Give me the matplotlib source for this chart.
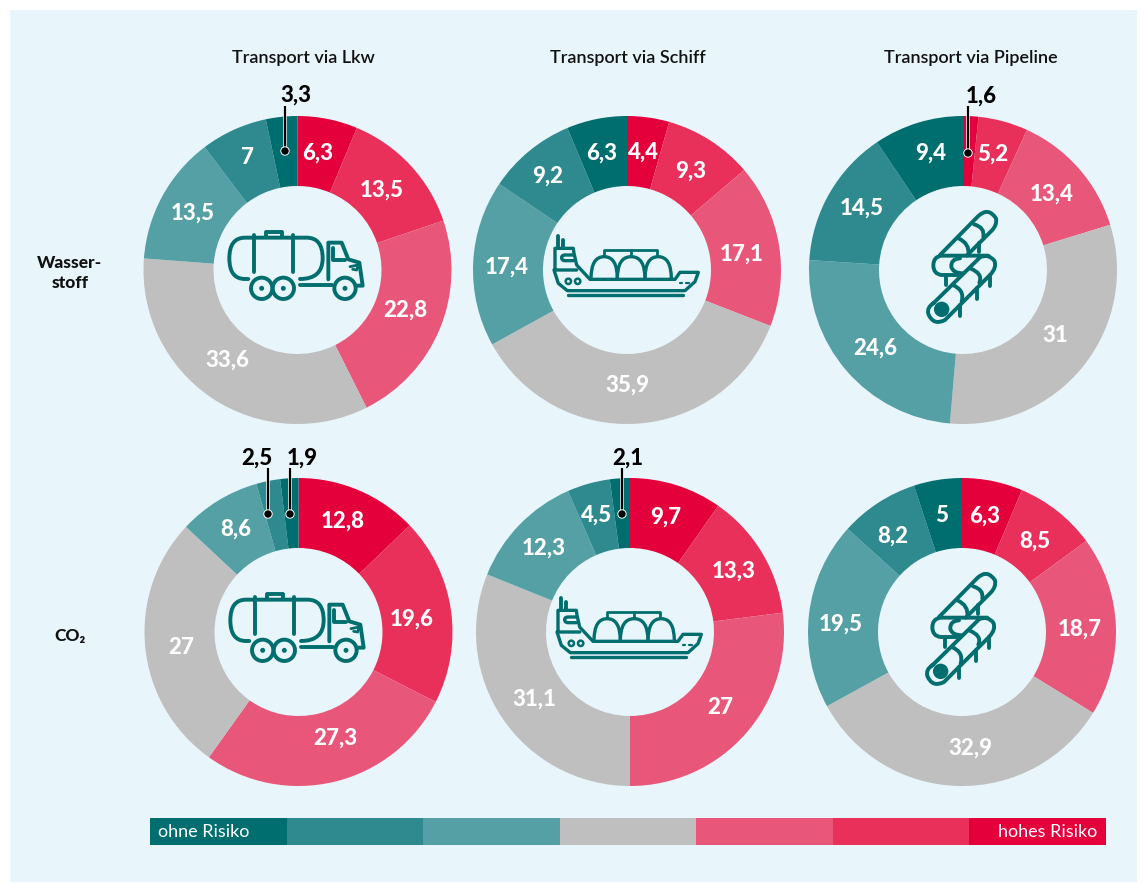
#!/usr/bin/env python3
"""Risk shares for hydrogen and CO2 transport as a grid of donuts."""

import matplotlib

matplotlib.use("Agg")
import matplotlib.pyplot as plt
from matplotlib.patches import Circle, PathPatch, Rectangle
from matplotlib.path import Path

plt.rcParams["font.family"] = ["Lato", "DejaVu Sans"]

WIDTH, HEIGHT = 1144, 883
PANEL = "#e8f5fb"
TEAL = "#006e6e"
ICON_LW = 2.8

COLORS = ["#e4003a", "#e8305a", "#e8577a", "#bfbfbf", "#55a0a5", "#2e8a8f", "#006e6e"]
SCALE_COLORS = COLORS[::-1]

COLUMN_TITLES = ["Transport via Lkw", "Transport via Schiff", "Transport via Pipeline"]
ROW_TITLES = ["Wasser-\nstoff", "CO₂"]

# clockwise from 12 o'clock, high risk first
H2_TRUCK = [6.3, 13.5, 22.8, 33.6, 13.5, 7, 3.3]
H2_SHIP = [4.4, 9.3, 17.1, 35.9, 17.4, 9.2, 6.3]
H2_PIPE = [1.6, 5.2, 13.4, 31, 24.6, 14.5, 9.4]
CO2_TRUCK = [12.8, 19.6, 27.3, 27, 8.6, 2.5, 1.9]
CO2_SHIP = [9.7, 13.3, 27, 31.1, 12.3, 4.5, 2.1]
CO2_PIPE = [6.3, 8.5, 18.7, 32.9, 19.5, 8.2, 5]

DONUTS = [
    (H2_TRUCK, 297.5, 270, "truck"),
    (H2_SHIP, 627, 270, "ship"),
    (H2_PIPE, 963, 270, "pipe"),
    (CO2_TRUCK, 298.5, 632, "truck"),
    (CO2_SHIP, 630, 632, "ship"),
    (CO2_PIPE, 962, 632, "pipe"),
]

OUTER_R = 154
INNER_R = 84

# where the white labels sit, one list per donut (None: value has a callout instead)
LABEL_XY = [
    [(318, 153), (382, 190), (405, 310), (227, 360), (193, 213), (248, 158), None],
    [(643, 152), (691, 171), (742, 254), (627, 385), (507, 267), (548, 176), (602, 153)],
    [None, (993, 154), (1052, 194), (1055, 336), (875, 348), (862, 208), (931, 153)],
    [(343, 521), (412, 619), (335, 738), (181, 647), (236, 529), None, None],
    [(666, 517), (734, 571), (720, 707), (534, 699), (544, 548), (597, 515), None],
    [(985, 516), (1035, 541), (1080, 629), (970, 748), (841, 624), (893, 536), (942, 515)],
]


def stroke(ax, points, dx, dy, closed=False, lw=ICON_LW):
    """Draw a polyline given in icon coords; a 3-tuple marks a quadratic control point."""
    verts, codes = [], []
    for pt in points:
        verts.append((pt[0] / 3 + dx, pt[1] / 3 + dy))
        if len(pt) == 3:
            codes.append(Path.CURVE3)
        else:
            codes.append(Path.LINETO if codes else Path.MOVETO)
    if closed:
        verts.append(verts[0])
        codes.append(Path.CLOSEPOLY)
    ax.add_patch(PathPatch(Path(verts, codes), fc="none", ec=TEAL, lw=lw, capstyle="round",
                           joinstyle="round", zorder=4))


def ring(ax, x, y, r, dx, dy, lw=ICON_LW, fc="none"):
    ax.add_patch(Circle((x / 3 + dx, y / 3 + dy), r / 3, fc=fc, ec=TEAL, lw=lw, zorder=4))


def draw_truck(ax, dx, dy):
    stroke(ax, [(145, 237), (135, 237), (88, 237, 0), (88, 175), (88, 113, 0), (135, 113),
                (320, 113), (368, 113, 0), (368, 175), (368, 237, 0), (300, 237)], dx, dy)
    stroke(ax, [(162, 105), (162, 215)], dx, dy)
    stroke(ax, [(280, 105), (280, 215)], dx, dy)
    stroke(ax, [(197, 110), (197, 97), (245, 97), (245, 110)], dx, dy)
    for wx in (185, 250, 435):
        ring(ax, wx, 265, 32, dx, dy)
        ring(ax, wx, 265, 4, dx, dy, lw=1.6, fc=TEAL)
    stroke(ax, [(300, 255), (395, 255)], dx, dy)
    stroke(ax, [(385, 238), (385, 128), (425, 128), (445, 178), (478, 188), (488, 257), (470, 257)],
           dx, dy)
    stroke(ax, [(400, 145), (400, 180), (435, 180)], dx, dy)
    stroke(ax, [(450, 200), (475, 195), (470, 210), (458, 208)], dx, dy, lw=2.0)


def draw_ship(ax, dx, dy):
    stroke(ax, [(85, 48), (85, 85)], dx, dy)
    stroke(ax, [(100, 60), (100, 85)], dx, dy)
    stroke(ax, [(75, 150), (75, 85), (130, 85), (132, 100), (140, 135), (180, 178), (435, 178),
                (450, 157), (505, 157), (495, 185), (465, 212), (112, 212), (85, 190), (72, 150),
                (140, 150)], dx, dy, lw=2.4)
    stroke(ax, [(130, 105), (105, 105), (95, 105, 0), (95, 113), (95, 122, 0), (105, 122),
                (130, 122)], dx, dy, lw=2.4)
    stroke(ax, [(222, 108), (222, 90), (382, 90), (382, 108)], dx, dy, lw=2.0)
    stroke(ax, [(303, 90), (303, 108)], dx, dy, lw=2.0)
    for x0, x1 in ((183, 262), (262, 345), (345, 424)):
        mid = (x0 + x1) / 2
        stroke(ax, [(x0, 176), (x0, 110, 0), (mid, 110), (x1, 110, 0), (x1, 176)], dx, dy, lw=2.4)
    ring(ax, 115, 184, 8, dx, dy, lw=1.8)
    ring(ax, 143, 184, 8, dx, dy, lw=1.8)
    stroke(ax, [(115, 226), (460, 226)], dx, dy, lw=2.4)
    stroke(ax, [(450, 188), (456, 188)], dx, dy, lw=1.6)
    stroke(ax, [(468, 188), (476, 188)], dx, dy, lw=1.6)


def draw_pipe(ax, dx, dy):
    # upper pipe
    stroke(ax, [(120, 195), (235, 78), (265, 50, 0), (288, 85), (292, 105, 0), (275, 122),
                (200, 197)], dx, dy)
    stroke(ax, [(175, 145), (210, 160, 0), (205, 195)], dx, dy)
    stroke(ax, [(222, 103), (255, 112, 0), (250, 140)], dx, dy)
    stroke(ax, [(238, 160), (238, 185)], dx, dy)
    # middle pipe
    stroke(ax, [(265, 197), (125, 197), (100, 200, 0), (100, 226), (100, 252, 0), (125, 255),
                (172, 255)], dx, dy)
    stroke(ax, [(180, 205), (152, 207, 0), (154, 230), (158, 250, 0), (190, 250)], dx, dy)
    stroke(ax, [(137, 255), (137, 285)], dx, dy)
    # lower pipe
    stroke(ax, [(100, 340), (240, 202), (265, 190, 0), (283, 212), (292, 232, 0), (270, 255),
                (135, 390), (100, 408, 0), (85, 372), (80, 352, 0), (100, 340)], dx, dy)
    ring(ax, 125, 358, 21, dx, dy, lw=1.0, fc=TEAL)
    stroke(ax, [(158, 285), (195, 300, 0), (185, 335)], dx, dy)
    stroke(ax, [(210, 235), (250, 250, 0), (238, 278)], dx, dy)
    stroke(ax, [(180, 345), (180, 378)], dx, dy)
    stroke(ax, [(230, 295), (230, 328)], dx, dy)
    stroke(ax, [(270, 255), (270, 288)], dx, dy)


ICONS = {
    "truck": (draw_truck, 200 - 297.5, 200 - 270),
    "ship": (draw_ship, 530 - 627, 220 - 270),
    "pipe": (draw_pipe, 900 - 963, 190 - 270),
}

# value text, text x/y, leader x, leader top y, leader bottom y
CALLOUTS = [
    ("3,3", 296, 95, 285, 106, 151),
    ("1,6", 981, 96, 968, 106, 153),
    ("2,5", 257, 458, 268, 468, 514),
    ("1,9", 302, 458, 290, 468, 514),
    ("2,1", 628, 458, 622, 468, 514),
]


def fmt(value):
    return str(value).replace(".", ",")


fig = plt.figure(figsize=(WIDTH / 100, HEIGHT / 100), dpi=100, facecolor="white")
ax = fig.add_axes([0, 0, 1, 1])
ax.add_patch(Rectangle((10, 10), 1127, 872, fc=PANEL, ec="none", zorder=0))

for (values, cx, cy, icon), label_xy in zip(DONUTS, LABEL_XY):
    ax.pie(
        values,
        colors=COLORS,
        startangle=-90,
        counterclock=True,
        center=(cx, cy),
        radius=OUTER_R,
        wedgeprops={"width": OUTER_R - INNER_R, "linewidth": 0},
    )
    for val, xy in zip(values, label_xy):
        if xy is None:
            continue
        ax.text(xy[0], xy[1], fmt(val), color="white", fontsize=16, fontweight="black",
                ha="center", va="center", zorder=5)
    draw, off_x, off_y = ICONS[icon]
    draw(ax, cx + off_x, cy + off_y)

for text, tx, ty, lx, y0, y1 in CALLOUTS:
    ax.plot([lx, lx], [y0, y1], color="white", lw=2.6, zorder=5, solid_capstyle="butt")
    ax.plot([lx, lx], [y0, y1], color="black", lw=1.6, zorder=6, solid_capstyle="butt")
    ax.add_patch(Circle((lx, y1), 4.2, fc="black", ec="white", lw=0.7, zorder=6))
    ax.text(tx, ty, text, color="black", fontsize=16, fontweight="black", ha="center",
            va="center", zorder=6)

for title, x in zip(COLUMN_TITLES, (303, 628, 971)):
    ax.text(x, 58, title, fontsize=13, fontweight="semibold", ha="center", va="center",
            color="#111111")
ax.text(70, 273, ROW_TITLES[0], fontsize=12.5, fontweight="black", ha="center", va="center",
        color="#111111", linespacing=1.3)
ax.text(70, 636, ROW_TITLES[1], fontsize=12.5, fontweight="black", ha="center", va="center",
        color="#111111")

# risk scale
bar_left, bar_right = 150, 1106
step = (bar_right - bar_left) / len(SCALE_COLORS)
for i, color in enumerate(SCALE_COLORS):
    ax.add_patch(Rectangle((bar_left + i * step, 818), step, 27, fc=color, ec="none", zorder=2))
ax.text(158, 832, "ohne Risiko", color="white", fontsize=13, ha="left", va="center", zorder=3)
ax.text(1097, 832, "hohes Risiko", color="white", fontsize=13, ha="right", va="center", zorder=3)

ax.set_xlim(0, WIDTH)
ax.set_ylim(HEIGHT, 0)
ax.set_aspect("equal")
ax.axis("off")

fig.savefig("out.png", dpi=100, facecolor="white")
